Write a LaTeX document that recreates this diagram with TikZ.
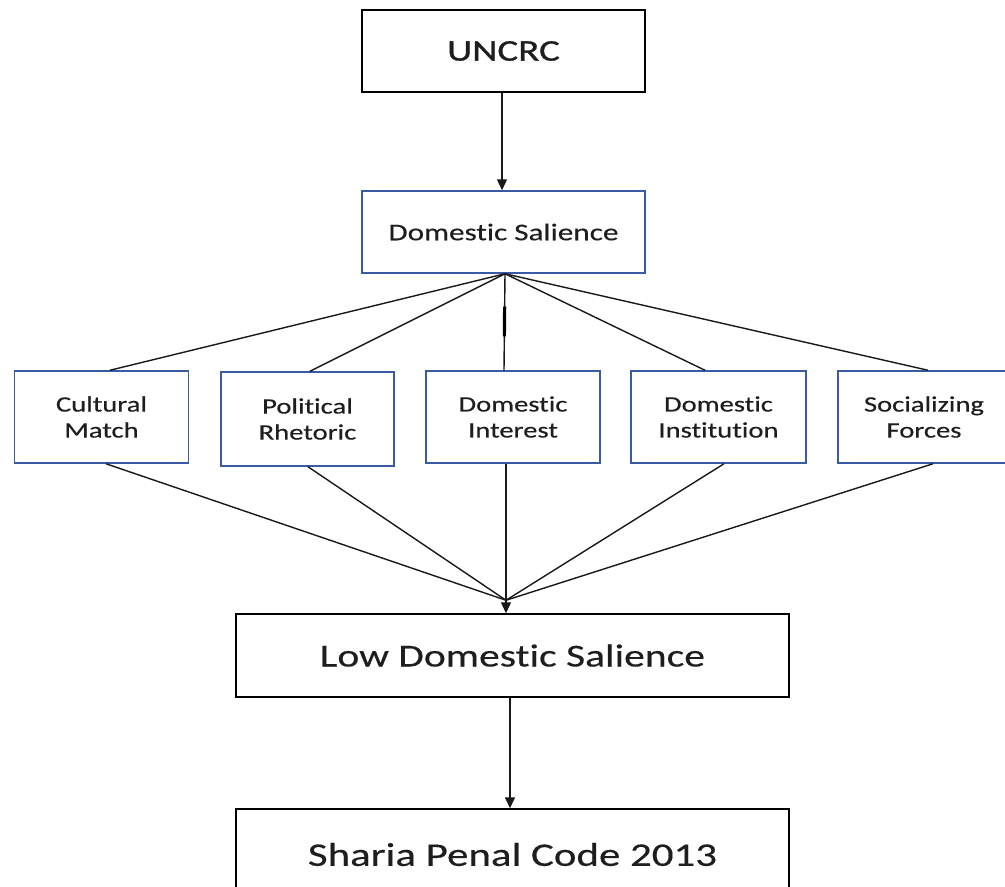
\documentclass[tikz,border=0pt]{standalone}
\usepackage{fontspec}
\setmainfont{Carlito}[FakeStretch=1.3,FakeBold=0.35,RawFeature=-liga]
\newfontfamily\headfont{Carlito}[FakeStretch=1.3,FakeBold=1.0,RawFeature=-liga]
\usetikzlibrary{arrows.meta,calc}
\definecolor{boxblue}{RGB}{58,90,165}
\definecolor{txt}{RGB}{30,30,30}
\begin{document}
\begin{tikzpicture}[x=1pt,y=-1pt,
  line width=1.5pt,
  base/.style={draw,rectangle,inner sep=0pt,align=center,text=txt},
  blackbox/.style={base,draw=black},
  bluebox/.style={base,draw=boxblue},
  factor/.style={bluebox,minimum width=174pt,minimum height=92pt,font=\fontsize{22}{26}\selectfont},
  conn/.style={line width=1.4pt,draw=black!90},
  arr/.style={conn,-{Triangle[length=11pt,width=10pt]}}
]
\useasboundingbox (0,0) rectangle (1005,887);
\fill[white] (0,0) rectangle (1005,887);

\node[blackbox,minimum width=283pt,minimum height=82pt,font=\headfont\fontsize{30}{34}\selectfont] (un) at (503.5,51) {UNCRC};
\node[bluebox,minimum width=283pt,minimum height=82pt,font=\fontsize{24}{28}\selectfont] (ds) at (503.5,232) {Domestic Salience};

\node[factor] (cm) at (101.5,417) {Cultural\\Match};
\node[factor,minimum width=173pt,minimum height=94pt] (pr) at (307.5,419) {Political\\Rhetoric};
\node[factor] (di) at (513,417) {Domestic\\Interest};
\node[factor,minimum width=175pt] (dn) at (718.5,417) {Domestic\\Institution};
\node[factor,minimum width=172pt] (sf) at (924,417) {Socializing\\Forces};

\node[blackbox,minimum width=553pt,minimum height=83pt,font=\fontsize{32}{36}\selectfont] (low) at (512.5,655.5) {Low Domestic Salience};
\node[blackbox,minimum width=553pt,minimum height=91pt,font=\fontsize{33}{37}\selectfont] (sh) at (512.5,854.5) {Sharia Penal Code 2013};

% arrows
\draw[arr] ([xshift=-1.5pt]un.south) -- ([xshift=-1.5pt]ds.north);
\draw[arr,line width=1.7pt] ([xshift=-2.5pt]low.south) -- ([xshift=-2.5pt]sh.north);

% fan out
\coordinate (top) at ($(ds.south)+(1.5,0)$);
\draw[conn] (top) -- ([xshift=8.5pt]cm.north);
\draw[conn] (top) -- ([xshift=2.5pt]pr.north);
\draw[conn] (top) -- ([xshift=-9pt]di.north);
\draw[conn] (top) -- ([xshift=-13.5pt]dn.north);
\draw[conn] (top) -- ([xshift=4pt]sf.north);
\path (top) -- ([xshift=-9pt]di.north) coordinate[pos=0.34] (tk1) coordinate[pos=0.65] (tk2);
\draw[line width=3.2pt] (tk1) -- (tk2);

% fan in
\coordinate (conv) at ($(low.north)+(-6.5,-13)$);
\draw[conn] ([xshift=4.5pt]cm.south) -- (conv);
\draw[conn] ([xshift=0.5pt]pr.south) -- (conv);
\draw[conn] ([xshift=5.5pt]dn.south) -- (conv);
\draw[conn] ([xshift=9pt]sf.south) -- (conv);
\draw[arr] ([xshift=-7pt]di.south) -- ([xshift=-6.5pt]low.north);
\end{tikzpicture}
\end{document}
